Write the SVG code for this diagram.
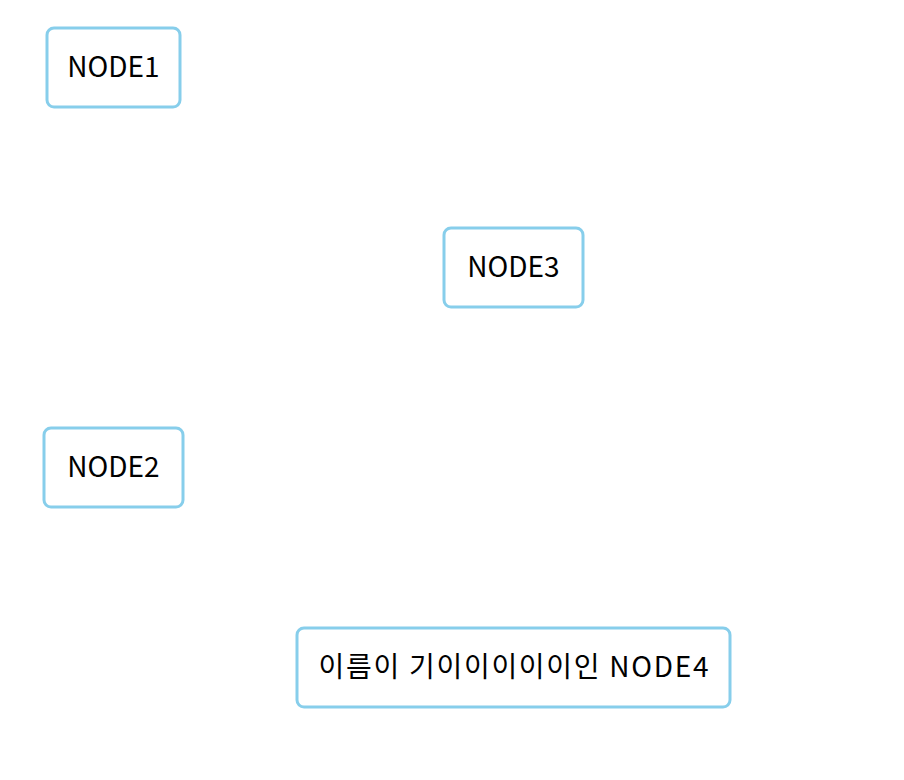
<svg xmlns="http://www.w3.org/2000/svg" width="904" height="780" viewBox="0 0 904 780">
<style>
.box{fill:#ffffff;stroke:#87CEEB;stroke-width:3}
.lbl{font-family:"Noto Sans CJK KR","Noto Sans",sans-serif;font-size:28px;fill:#000000;text-anchor:middle}
</style>
<rect width="904" height="780" fill="#ffffff"/>
<g id="connectors"></g>
<g id="node1"><rect class="box" x="47" y="28" width="133" height="79" rx="7"/><text class="lbl" x="113.5" y="77">NODE1</text></g>
<g id="node3"><rect class="box" x="444" y="228" width="139" height="79" rx="7"/><text class="lbl" x="513.5" y="277">NODE3</text></g>
<g id="node2"><rect class="box" x="44" y="428" width="139" height="79" rx="7"/><text class="lbl" x="113.5" y="477">NODE2</text></g>
<g id="node4"><rect class="box" x="297" y="628" width="433" height="79" rx="7"/><text class="lbl" x="513.5" y="677" textLength="390" lengthAdjust="spacing">이름이 기이이이이이인 NODE4</text></g>
</svg>
